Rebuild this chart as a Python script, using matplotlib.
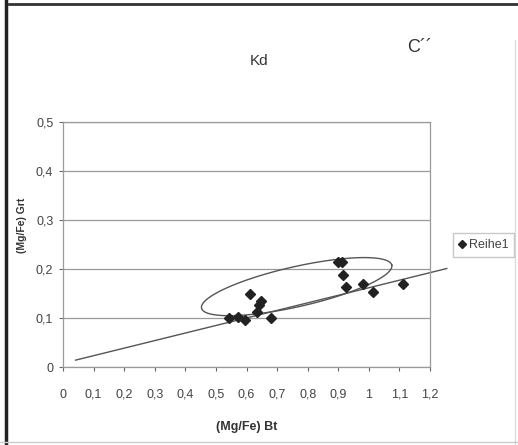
import numpy as np
import matplotlib
matplotlib.use("Agg")
import matplotlib.pyplot as plt
from matplotlib.lines import Line2D

plt.rcParams['font.family'] = ['Liberation Sans', 'DejaVu Sans']

# (Mg/Fe) in biotite vs. garnet
mgfe_bt = [0.543, 0.571, 0.595, 0.611, 0.635, 0.642, 0.647, 0.679,
           0.900, 0.911, 0.914, 0.925, 0.982, 1.013, 1.111]
mgfe_grt = [0.099, 0.103, 0.096, 0.149, 0.113, 0.127, 0.135, 0.101,
            0.215, 0.215, 0.188, 0.163, 0.169, 0.154, 0.169]

# Kd reference line end points
kd_x = [0.041, 1.255]
kd_y = [0.014, 0.201]

# Ellipse around the data cloud: centre, half major axis, half minor axis
ell_center = (0.764, 0.164)
ell_major = (0.311, 0.044)
ell_minor = (-0.0146, 0.0398)

x_ticks = [0, 0.1, 0.2, 0.3, 0.4, 0.5, 0.6, 0.7, 0.8, 0.9, 1.0, 1.1, 1.2]
x_labels = ['0', '0,1', '0,2', '0,3', '0,4', '0,5', '0,6', '0,7', '0,8', '0,9', '1', '1,1', '1,2']
y_ticks = [0, 0.1, 0.2, 0.3, 0.4, 0.5]
y_labels = ['0', '0,1', '0,2', '0,3', '0,4', '0,5']

W, H = 518, 445
fig = plt.figure(figsize=(W / 100, H / 100), dpi=100)
ax = fig.add_axes([63 / W, 1 - 367 / H, (430 - 63) / W, (367 - 122) / H])

ax.set_xlim(0, 1.2)
ax.set_ylim(0, 0.5)
ax.set_xticks(x_ticks)
ax.set_xticklabels(x_labels)
ax.set_yticks(y_ticks)
ax.set_yticklabels(y_labels)
ax.tick_params(axis='both', labelsize=9, colors='#666666', length=3, width=0.8,
               labelcolor='#444444')
ax.tick_params(axis='x', pad=19)
ax.tick_params(axis='y', pad=4)
for lbl in ax.get_xticklabels():
    lbl.set_verticalalignment('baseline')
for s in ax.spines.values():
    s.set_color('#9a9a9a')
    s.set_linewidth(0.9)
ax.grid(axis='y', color='#9a9a9a', linewidth=0.9)
ax.set_axisbelow(True)

# trend line
ax.plot(kd_x, kd_y, color='#555555', linewidth=1.0, clip_on=False, zorder=2)

# ellipse
t = np.linspace(0, 2 * np.pi, 300)
ex = ell_center[0] + ell_major[0] * np.cos(t) + ell_minor[0] * np.sin(t)
ey = ell_center[1] + ell_major[1] * np.cos(t) + ell_minor[1] * np.sin(t)
ax.plot(ex, ey, color='#555555', linewidth=1.0, zorder=2)

# samples
ax.plot(mgfe_bt, mgfe_grt, linestyle='none', marker='D', markersize=5,
        color='#222222', zorder=3)

# axis titles
fig.text(247 / W, 1 - 427 / H, '(Mg/Fe) Bt', fontsize=9, color='#333333',
         fontweight='bold', ha='center', va='center')
fig.text(22 / W, 1 - 225 / H, '(Mg/Fe) Grt', fontsize=7.5, color='#333333',
         fontweight='bold', ha='center', va='center', rotation=90)

fig.text(259 / W, 1 - 61 / H, 'Kd', fontsize=11, color='#333333', ha='center', va='center')
fig.text(420 / W, 1 - 48 / H, 'C\u00b4\u00b4', fontsize=13, color='#333333', ha='center', va='center')

# legend
handle = Line2D([], [], linestyle='none', marker='D', markersize=4.5, color='#222222')
leg = fig.legend([handle], ['Reihe1'], loc='center left',
                 bbox_to_anchor=(453 / W, 1 - 245 / H), fontsize=9,
                 frameon=True, fancybox=False, edgecolor='#bbbbbb',
                 handlelength=0.5, handletextpad=0.3, borderpad=0.45,
                 borderaxespad=0)
for txt in leg.get_texts():
    txt.set_color('#444444')

# page frame
fig.add_artist(Line2D([5.5 / W, 5.5 / W], [0, 1], color='#222222', linewidth=2.5))
fig.add_artist(Line2D([9 / W, 1], [1 - 4 / H, 1 - 4 / H], color='#333333', linewidth=2.0))
fig.add_artist(Line2D([515 / W, 515 / W], [0, 1 - 40 / H], color='#dddddd', linewidth=1.0))
fig.add_artist(Line2D([0, 1], [3 / H, 3 / H], color='#cccccc', linewidth=1.0))

fig.savefig('out.png', dpi=100)
